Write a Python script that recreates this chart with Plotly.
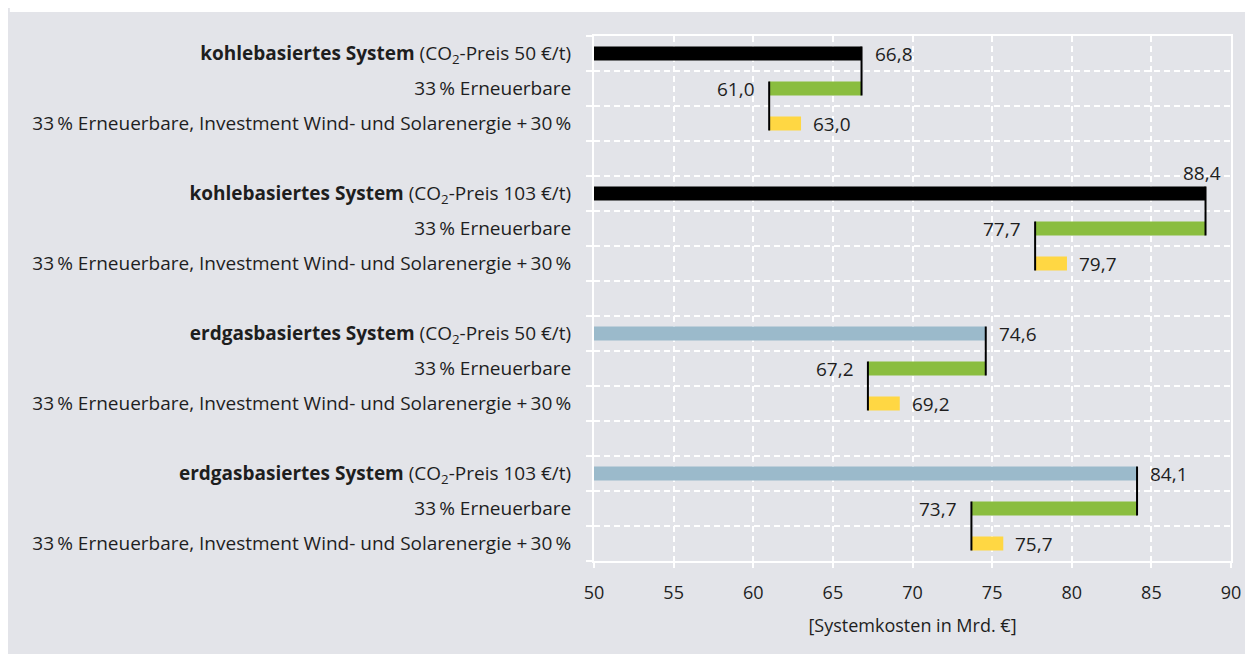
"""Systemkosten: Basis, 33 % Erneuerbare, Investment +30 %."""

import plotly.graph_objects as go

# --- data -------------------------------------------------------------
group_labels = [
    "<b>kohlebasiertes System</b> (CO<sub>2</sub>-Preis 50 €/t)",
    "<b>kohlebasiertes System</b> (CO<sub>2</sub>-Preis 103 €/t)",
    "<b>erdgasbasiertes System</b> (CO<sub>2</sub>-Preis 50 €/t)",
    "<b>erdgasbasiertes System</b> (CO<sub>2</sub>-Preis 103 €/t)",
]
renew_label = "33\u2009% Erneuerbare"
invest_label = "33\u2009% Erneuerbare, Investment Wind- und Solarenergie +\u200930\u2009%"

base_values = [66.8, 88.4, 74.6, 84.1]
renew_values = [61.0, 77.7, 67.2, 73.7]
invest_values = [63.0, 79.7, 69.2, 75.7]
base_colors = ["#000000", "#000000", "#9bbacb", "#9bbacb"]

x_min, x_max = 50, 90
GREEN = "#8abd3f"
YELLOW = "#ffd743"
BG = "#e3e4e9"
TEXT = "#1e1e1e"
FONT = "Open Sans"

# figure geometry (page is offset by the 8px body margin)
W, H = 1245, 646
L, R, T, B = 586, 20, 28, 93


def fmt(v):
    return f"{v:.1f}".replace(".", ",")


fig = go.Figure()

tick_vals, tick_text = [], []
bar_w = 0.4
val_font = {"family": FONT, "size": 19, "color": TEXT}

for i, label in enumerate(group_labels):
    y0 = i * 4  # three rows per group plus one empty slot
    b, r, inv = base_values[i], renew_values[i], invest_values[i]
    tick_vals += [y0, y0 + 1, y0 + 2]
    tick_text += [label, renew_label, invest_label]

    fig.add_trace(go.Bar(
        y=[y0], x=[b - x_min], base=[x_min], orientation="h", width=bar_w,
        marker={"color": base_colors[i], "line": {"width": 0}},
        hoverinfo="skip",
    ))
    fig.add_trace(go.Bar(
        y=[y0 + 1], x=[b - r], base=[r], orientation="h", width=bar_w,
        marker={"color": GREEN, "line": {"width": 0}}, hoverinfo="skip",
    ))
    fig.add_trace(go.Bar(
        y=[y0 + 2], x=[inv - r], base=[r], orientation="h", width=bar_w,
        marker={"color": YELLOW, "line": {"width": 0}}, hoverinfo="skip",
    ))
    # connector lines
    for xv, ya in ((b, y0), (r, y0 + 1)):
        fig.add_trace(go.Scatter(
            x=[xv, xv], y=[ya - bar_w / 2, ya + 1 + bar_w / 2],
            mode="lines", line={"color": "#000000", "width": 2},
            hoverinfo="skip",
        ))

    # value labels
    if b > x_max - 4:
        fig.add_annotation(x=b, y=y0, text=fmt(b), showarrow=False, font=val_font,
                           xanchor="right", xshift=17, yshift=21)
    else:
        fig.add_annotation(x=b, y=y0, text=fmt(b), showarrow=False, font=val_font,
                           xanchor="left", xshift=11)
    fig.add_annotation(x=r, y=y0 + 1, text=fmt(r), showarrow=False, font=val_font,
                       xanchor="right", xshift=-12)
    fig.add_annotation(x=inv, y=y0 + 2, text=fmt(inv), showarrow=False, font=val_font,
                       xanchor="left", xshift=10)

n_slots = len(group_labels) * 4 - 1

# white rule at the top of the panel
pw, ph = W - L - R, H - T - B
fig.add_shape(type="rect", xref="paper", yref="paper", layer="below",
              x0=-L / pw, x1=(W - L) / pw,
              y0=(H - B - 4) / ph, y1=(H - B) / ph,
              fillcolor="white", line={"width": 0})

fig.update_layout(
    width=W, height=H,
    margin={"l": L, "r": R, "t": T, "b": B, "pad": 0},
    paper_bgcolor=BG, plot_bgcolor=BG,
    showlegend=False, barmode="overlay",
    font={"family": FONT, "size": 19, "color": TEXT},
    xaxis={
        "range": [x_min, x_max], "dtick": 5, "tick0": 50,
        "showgrid": True, "gridcolor": "white", "griddash": "6px,4px", "gridwidth": 2,
        "showline": True, "linecolor": "white", "linewidth": 2, "mirror": True,
        "ticks": "outside", "ticklen": 5, "tickcolor": "white", "tickwidth": 2,
        "tickfont": {"size": 18}, "ticklabelstandoff": 9,
        "zeroline": False,
        "title": {"text": "[Systemkosten in Mrd. €]", "standoff": 17,
                  "font": {"size": 18}},
    },
    yaxis={
        "range": [n_slots - 0.5, -0.5],
        "tickmode": "array", "tickvals": tick_vals, "ticktext": tick_text,
        "showgrid": False, "ticks": "", "ticklabelstandoff": 17,
        "showline": True, "linecolor": "white", "linewidth": 2, "mirror": True,
        "zeroline": False,
        "minor": {
            "tickmode": "array",
            "tickvals": [k - 0.5 for k in range(n_slots + 1)],
            "showgrid": True, "gridcolor": "white", "griddash": "6px,4px",
            "gridwidth": 2,
            "ticks": "outside", "ticklen": 6, "tickcolor": "white", "tickwidth": 2,
        },
    },
)

fig.write_html("out.html", post_script="document.body.style.overflow = 'hidden';")
